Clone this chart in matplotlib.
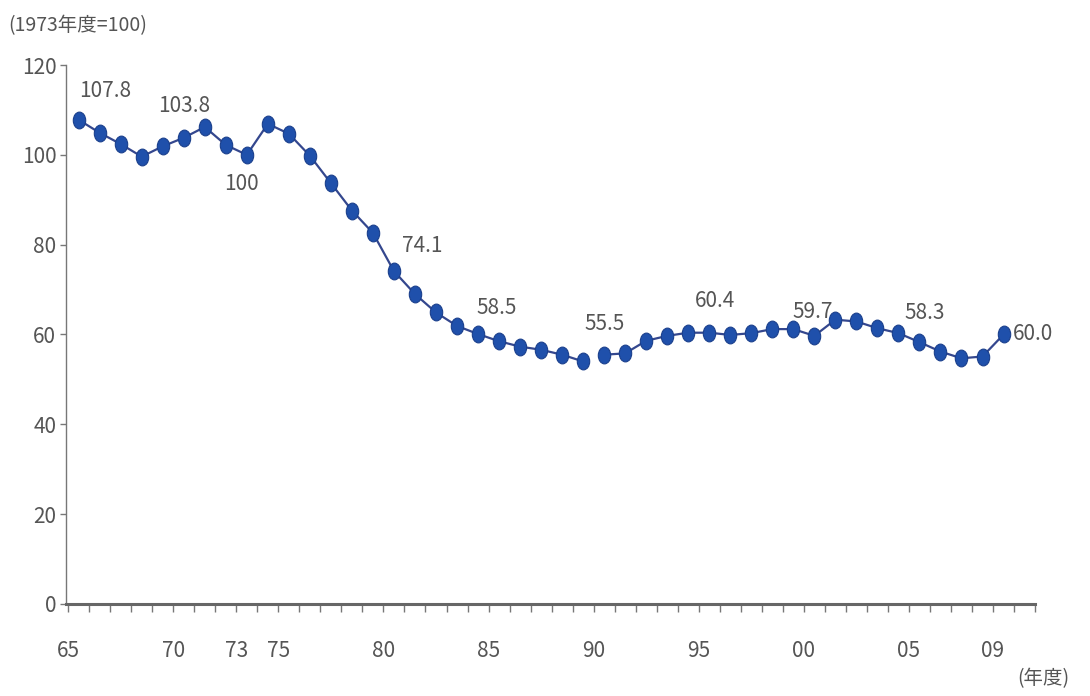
import numpy as np
import matplotlib.pyplot as plt
from matplotlib.markers import MarkerStyle
from matplotlib.transforms import Affine2D

plt.rcParams['font.family'] = ['Liberation Sans Narrow', 'Noto Sans CJK JP', 'DejaVu Sans']

# energy intensity index, FY1973 = 100
years_a = np.arange(1965, 1990)
index_a = [107.8, 104.9, 102.4, 99.6, 101.9, 103.8, 106.2, 102.2, 100.0, 106.9,
           104.7, 99.8, 93.7, 87.6, 82.6, 74.1, 69.0, 64.9, 61.9, 60.1,
           58.5, 57.3, 56.6, 55.5, 54.0]
years_b = np.arange(1990, 2010)
index_b = [55.5, 55.8, 58.6, 59.7, 60.4, 60.4, 59.9, 60.3, 61.2, 61.2,
           59.7, 63.3, 62.9, 61.4, 60.3, 58.3, 56.2, 54.7, 55.1, 60.0]

tick_years = [1965, 1970, 1973, 1975, 1980, 1985, 1990, 1995, 2000, 2005, 2009]
tick_labels = ['65', '70', '73', '75', '80', '85', '90', '95', '00', '05', '09']

# labelled points: year, value, offset in points, alignment
notes = [(1965, 107.8, (19, 21), 'center'),
         (1970, 103.8, (0, 23), 'center'),
         (1973, 100.0, (-4, -21), 'center'),
         (1980, 74.1, (6, 18), 'left'),
         (1985, 58.5, (-2, 24), 'center'),
         (1990, 55.5, (0, 22), 'center'),
         (1995, 60.4, (4, 23), 'center'),
         (2000, 59.7, (-1, 17), 'center'),
         (2005, 58.3, (4, 21), 'center'),
         (2009, 60.0, (7, 0), 'left')]

fig = plt.figure(figsize=(10.9, 6.96), dpi=100)
ax = fig.add_axes([0.0606, 0.1322, 0.889, 0.7744])

dot = MarkerStyle('o', transform=Affine2D().scale(0.85, 1.15))
for xs, ys in [(years_a, index_a), (years_b, index_b)]:
    ax.plot(xs, ys, color='#34478e', lw=1.6, marker=dot, ms=10.5,
            markerfacecolor='#1f50ab', markeredgecolor='#1a3f8c', markeredgewidth=0.8)

gray = '#555555'
for yr, val, off, ha in notes:
    txt = '100' if val == 100 else f'{val:.1f}'
    ax.annotate(txt, (yr, val), xytext=off, textcoords='offset points',
                ha=ha, va='center', fontsize=15, color=gray)

ax.set_xlim(1964.4, 2010.5)
ax.set_ylim(0, 120)
ax.set_yticks(range(0, 121, 20))
ax.set_xticks([y - 0.5 for y in tick_years])
ax.set_xticklabels(tick_labels)
ax.set_xticks(np.arange(1964.5, 2011, 1), minor=True)

for s in ['top', 'right']:
    ax.spines[s].set_visible(False)
ax.spines['left'].set_color('#777777')
ax.spines['left'].set_linewidth(1.0)
ax.spines['bottom'].set_color('#666666')
ax.spines['bottom'].set_linewidth(2.2)

ax.tick_params(axis='y', length=4, width=1, color='#777777', labelsize=15,
               labelcolor=gray, pad=3)
ax.tick_params(axis='x', which='both', length=6, width=1, color='#777777',
               labelsize=15, labelcolor=gray, pad=20)

fig.text(0.008, 0.963, '(1973年度=100)', fontsize=14, color=gray, ha='left', va='center')
fig.text(0.981, 0.025, '(年度)', fontsize=14, color=gray, ha='right', va='center')

fig.savefig('out.png', dpi=100, facecolor='white')
